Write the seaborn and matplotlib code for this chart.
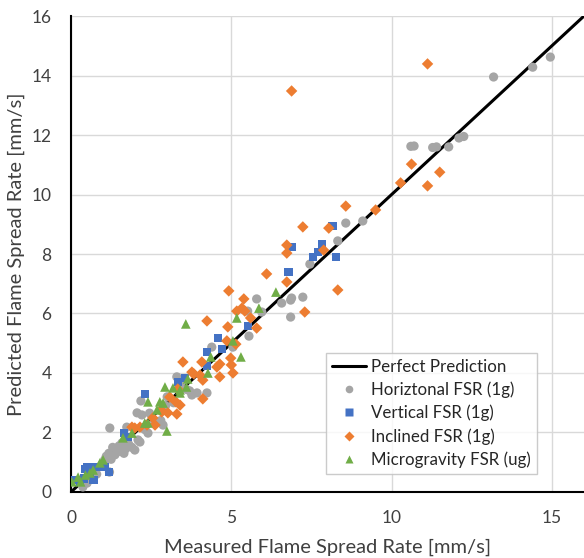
import seaborn as sns
import matplotlib.pyplot as plt
import pandas as pd
from matplotlib.lines import Line2D

# ---- data (measured, predicted) ----
horiz_x = [14.95, 14.4, 13.18, 12.25, 12.1, 11.78, 11.4, 11.28, 10.7, 10.6,
           9.1, 8.57, 8.32, 7.45, 7.23, 6.88, 6.85, 6.57, 6.85, 5.79,
           5.95, 5.51, 5.55, 5.05, 4.39, 4.24, 3.93, 3.77, 3.3, 3.6,
           2.18, 2.06, 2.21, 2.45, 2.8, 2.87, 2.4, 1.74, 1.21, 2.09,
           2.15, 1.59, 1.99, 1.65, 1.37, 1.18, 1.05, 0.96, 1.2, 0.37,
           0.35, 0.5, 1.3, 1.5, 1.7, 1.8, 1.45, 1.25, 1.1, 0.8,
           0.6, 2.3, 2.6, 3.0, 3.4, 2.95, 3.7, 3.2, 1.9, 1.55]
horiz_y = [14.62, 14.28, 13.95, 11.95, 11.9, 11.6, 11.6, 11.58, 11.63, 11.62,
           9.11, 9.04, 8.44, 7.66, 6.55, 6.52, 6.45, 6.35, 5.88, 6.49,
           6.05, 6.08, 5.24, 4.87, 4.87, 3.33, 3.33, 3.26, 3.87, 3.45,
           3.06, 2.66, 2.59, 2.65, 2.4, 2.25, 1.98, 2.18, 2.15, 1.75,
           1.68, 1.65, 1.41, 1.3, 1.25, 1.3, 1.08, 0.92, 0.67, 0.17,
           0.25, 0.3, 1.5, 1.55, 1.45, 1.6, 1.35, 1.1, 1.2, 0.6,
           0.45, 2.1, 2.4, 3.2, 3.6, 2.9, 3.4, 3.0, 1.5, 1.4]

vert_x = [8.16, 7.82, 7.7, 7.54, 8.26, 6.9, 6.78, 5.51, 4.58, 4.7,
          4.24, 4.24, 3.55, 3.33, 2.3, 1.65, 1.78, 1.18, 1.06, 0.72,
          0.5, 0.44, 0.81, 0.12, 0.28, 0.7, 0.4, 0.6]
vert_y = [8.94, 8.34, 8.07, 7.9, 7.9, 8.24, 7.39, 5.58, 5.18, 4.81,
          4.71, 4.24, 3.83, 3.7, 3.29, 1.98, 1.85, 0.67, 0.84, 0.84,
          0.84, 0.78, 0.84, 0.4, 0.34, 0.4, 0.45, 0.6]

incl_x = [11.12, 6.88, 10.62, 11.5, 10.28, 11.12, 8.57, 9.5, 7.23, 8.04,
          7.88, 8.32, 6.73, 6.73, 6.1, 6.73, 4.92, 5.39, 5.17, 5.33,
          5.42, 7.29, 5.6, 4.24, 5.79, 4.89, 5.14, 4.86, 4.98, 4.08,
          4.64, 5.0, 4.55, 3.49, 3.77, 3.83, 4.02, 4.11, 4.64, 5.05,
          4.11, 3.33, 3.08, 3.27, 3.4, 3.02, 2.8, 2.83, 3.3, 2.55,
          2.15, 2.37, 1.99, 2.62, 1.9]
incl_y = [14.39, 13.48, 11.02, 10.75, 10.39, 10.29, 9.61, 9.48, 8.91, 8.87,
          8.13, 6.79, 8.3, 8.03, 7.33, 7.06, 6.76, 6.49, 6.08, 6.18,
          6.08, 6.05, 5.85, 5.75, 5.51, 5.55, 4.97, 5.08, 4.5, 4.37,
          4.3, 4.27, 4.2, 4.37, 4.03, 3.97, 3.93, 3.76, 3.87, 4.0,
          3.13, 3.46, 3.19, 3.03, 2.92, 2.66, 2.76, 2.69, 2.62, 2.49,
          2.18, 2.25, 2.15, 2.25, 2.18]

micro_x = [6.39, 5.86, 5.17, 5.05, 4.36, 5.3, 4.27, 3.58, 3.64, 3.6,
           3.18, 3.4, 2.93, 3.4, 2.4, 2.77, 2.87, 2.68, 2.3, 2.4,
           2.99, 1.62, 1.9, 1.0, 0.9, 0.69, 0.59, 0.45, 0.22, 0.03, 0.3]
micro_y = [6.72, 6.18, 5.85, 5.08, 4.54, 4.54, 4.0, 5.65, 3.8, 3.53,
           3.5, 3.43, 3.53, 3.33, 3.03, 3.03, 2.99, 2.76, 2.32, 2.32,
           2.05, 1.82, 1.98, 1.08, 0.98, 0.74, 0.64, 0.57, 0.5, 0.34, 0.34]

line_x = [0, 16]
line_y = [0, 16]

series_names = ['Horiztonal FSR (1g)', 'Vertical FSR (1g)',
                'Inclined FSR (1g)', 'Microgravity FSR (ug)']
colors = ['#A5A5A5', '#4472C4', '#ED7D31', '#70AD47']
markers = ['o', 's', 'D', '^']
sizes = [44, 36, 34, 48]

df = pd.concat([
    pd.DataFrame({'x': horiz_x, 'y': horiz_y, 'series': series_names[0]}),
    pd.DataFrame({'x': vert_x, 'y': vert_y, 'series': series_names[1]}),
    pd.DataFrame({'x': incl_x, 'y': incl_y, 'series': series_names[2]}),
    pd.DataFrame({'x': micro_x, 'y': micro_y, 'series': series_names[3]}),
])

sns.set_style('white')
plt.rcParams['font.family'] = ['Lato', 'DejaVu Sans']

fig = plt.figure(figsize=(5.84, 5.58), dpi=100)
ax = fig.add_axes([0.1216, 0.1183, 0.8784, 0.853])

ax.grid(True, color='#D9D9D9', linewidth=1)
ax.set_axisbelow(True)

ax.plot(line_x, line_y, color='black', linewidth=2.2, zorder=2)

for name, c, m, s in zip(series_names, colors, markers, sizes):
    sub = df[df['series'] == name]
    sns.scatterplot(data=sub, x='x', y='y', color=c, marker=m, s=s,
                    edgecolor='none', ax=ax, zorder=3, legend=False)

ax.set_xlim(0, 16)
ax.set_ylim(0, 16)
ax.set_xticks([0, 5, 10, 15])
ax.set_yticks(range(0, 17, 2))

for side in ['top', 'right']:
    ax.spines[side].set_visible(False)
for side in ['left', 'bottom']:
    ax.spines[side].set_color('black')
    ax.spines[side].set_linewidth(1.5)

ax.tick_params(axis='x', labelsize=12.5, colors='#404040', length=0, pad=13)
ax.tick_params(axis='y', labelsize=12.5, colors='#404040', length=0, pad=14)
ax.set_xlabel('Measured Flame Spread Rate [mm/s]', fontsize=14.5, color='#404040', labelpad=9)
ax.set_ylabel('Predicted Flame Spread Rate [mm/s]', fontsize=14.5, color='#404040', labelpad=5)

handles = [Line2D([], [], color='black', linewidth=2.2)]
for c, m in zip(colors, markers):
    handles.append(Line2D([], [], linestyle='none', marker=m, color=c,
                          markersize=5.5, markeredgecolor='none'))
labels = ['Perfect Prediction'] + series_names
leg = ax.legend(handles, labels, loc='lower right', bbox_to_anchor=(0.908, 0.038),
                borderaxespad=0, fontsize=12.2, frameon=True, fancybox=False,
                edgecolor='#BFBFBF', handlelength=2.0, handletextpad=0.3,
                labelspacing=0.4, borderpad=0.35)
leg.get_frame().set_linewidth(1)
for t in leg.get_texts():
    t.set_color('#262626')

fig.savefig('out.png', dpi=100)
